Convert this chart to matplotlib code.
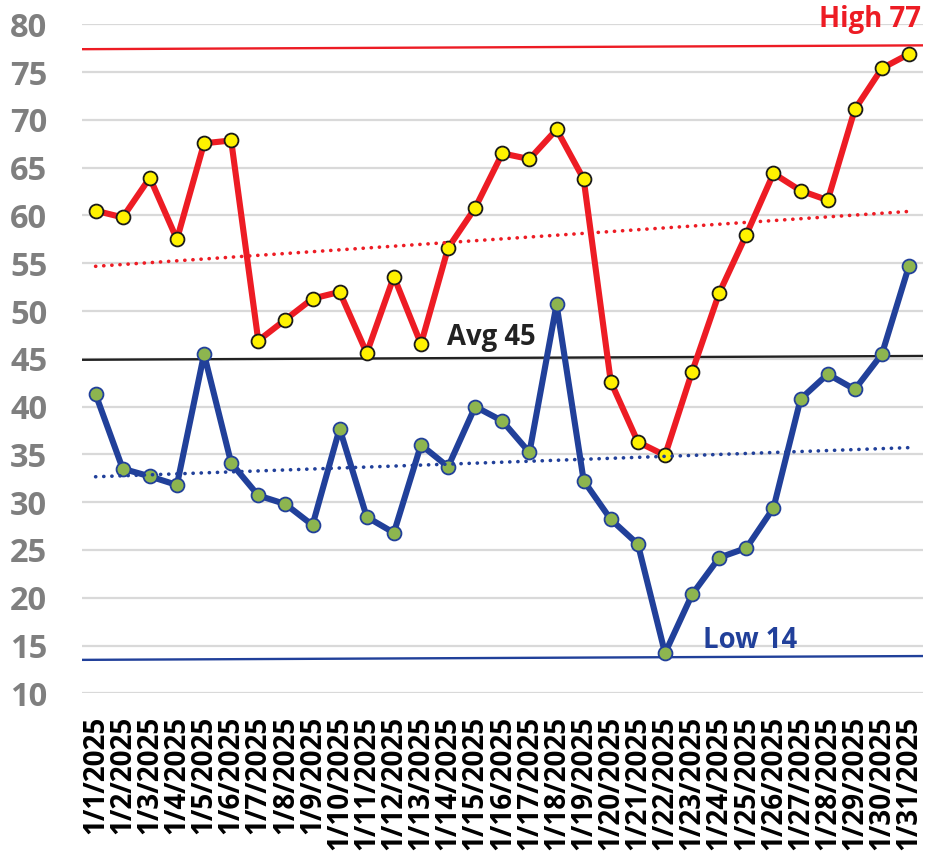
import matplotlib
matplotlib.use("Agg")
import matplotlib.pyplot as plt
import numpy as np

# ---- data ----
dates = [f"1/{d}/2025" for d in range(1, 32)]
highs = [60.5, 59.8, 63.95, 57.5, 67.55, 67.85, 46.9, 49.1, 51.3, 52.0,
         45.6, 53.6, 46.55, 56.6, 60.8, 66.5, 65.9, 69.0, 63.8, 42.6,
         36.3, 34.9, 43.65, 51.9, 58.0, 64.4, 62.6, 61.6, 71.1, 75.4, 76.9]
lows = [41.3, 33.5, 32.7, 31.8, 45.5, 34.1, 30.7, 29.8, 27.6, 37.7,
        28.45, 26.8, 36.0, 33.7, 40.0, 38.5, 35.2, 50.7, 32.25, 28.2,
        25.6, 14.2, 20.35, 24.2, 25.2, 29.4, 40.8, 43.4, 41.8, 45.5, 54.75]
yticks = list(range(10, 81, 5))

# reference lines (start value, end value) as drawn in the original
high_line = [77.4, 77.8]
avg_line = [44.9, 45.3]
low_line = [13.5, 13.9]
labels = ["High 77", "Avg 45", "Low 14"]

RED = "#ED1C24"
BLUE = "#21409A"
YELLOW = "#FFF200"
GREEN = "#8DB54F"
FONT = "Open Sans"

fig = plt.figure(figsize=(9.28, 8.57), dpi=100)
ax = fig.add_axes([0.0884, 0.191, 0.9058, 0.7806])

x = np.arange(len(dates))
ax.set_xlim(-0.5, len(dates) - 0.5)
ax.set_ylim(10, 80)

# gridlines
ax.set_yticks(yticks)
ax.grid(axis="y", color="#D9D9D9", linewidth=1.6, zorder=0)
ax.set_axisbelow(True)
for s in ax.spines.values():
    s.set_visible(False)

# reference lines
xr = [-0.5, len(dates) - 0.5]
ax.plot(xr, high_line, color=RED, lw=1.7, zorder=2)
ax.plot(xr, avg_line, color="#222222", lw=1.7, zorder=2)
ax.plot(xr, low_line, color=BLUE, lw=1.7, zorder=2)

# series
ax.plot(x, highs, color=RED, lw=4.4, zorder=3, solid_joinstyle="round",
        marker="o", ms=10, mfc=YELLOW, mec="#1A1A1A", mew=1.3)
ax.plot(x, lows, color=BLUE, lw=4.4, zorder=3, solid_joinstyle="round",
        marker="o", ms=10, mfc=GREEN, mec=BLUE, mew=1.3)

# linear trend lines
for vals, col in [(highs, RED), (lows, BLUE)]:
    k, b = np.polyfit(x, vals, 1)
    ax.plot([x[0], x[-1]], [b, k * x[-1] + b], color=col, lw=2.6,
            linestyle=(0, (0.05, 2.2)), dash_capstyle="round", zorder=4)

# annotations
ax.text(30.45, 79.75, labels[0], color=RED, fontsize=19.8, fontweight="bold",
        family=FONT, ha="right", va="baseline", clip_on=False)
ax.text(12.95, 46.45, labels[1], color="#222222", fontsize=19.8, fontweight="bold",
        family=FONT, ha="left", va="baseline")
ax.text(22.41, 14.74, labels[2], color=BLUE, fontsize=19.8, fontweight="bold",
        family=FONT, ha="left", va="baseline")

# ticks
ax.set_xticks(x)
ax.set_xticklabels(dates, rotation=90, fontsize=20, fontweight="bold",
                   family=FONT, color="black", va="top", ha="center")
ax.set_yticklabels([str(v) for v in yticks], fontsize=23.5, fontweight="bold",
                   family=FONT, color="#7F7F7F")
ax.tick_params(axis="x", length=0, pad=16)
ax.tick_params(axis="y", length=0, pad=25)

fig.savefig("out.png", dpi=100)
